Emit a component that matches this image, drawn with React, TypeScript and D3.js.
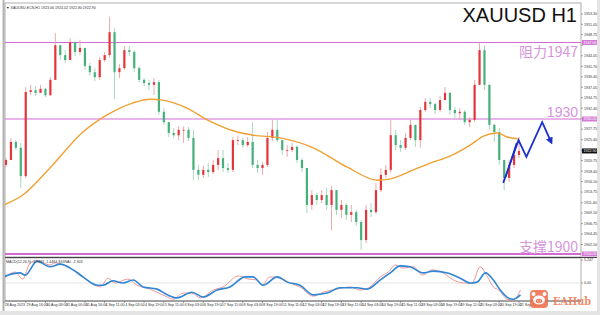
import React from "react";
import * as d3 from "d3";

const W = 600;
const H = 315;

// ---- DATA (4-hour aggregated candles) ----
const firstOpen = 1919.8;
const closes = [
  1920.9, 1924.9, 1923.6, 1917.3, 1936.0, 1936.4, 1935.8, 1936.7, 1935.3, 1938.7,
  1946.4, 1944.2, 1943.1, 1947.1, 1944.9, 1945.8, 1941.8, 1940.4, 1939.3, 1943.1,
  1944.2, 1949.3, 1940.4, 1941.3, 1945.3, 1944.9, 1941.3, 1938.7, 1938.0, 1937.6,
  1938.2, 1931.6, 1929.3, 1926.9, 1926.4, 1927.6, 1927.6, 1925.8, 1918.7, 1917.6,
  1918.7, 1918.2, 1919.8, 1921.3, 1919.1, 1918.7, 1925.3, 1925.3, 1924.2, 1924.9,
  1919.8, 1919.1, 1919.8, 1925.8, 1927.6, 1925.3, 1923.1, 1923.1, 1923.8, 1920.9,
  1919.1, 1910.9, 1913.1, 1912.0, 1913.1, 1910.9, 1914.2, 1909.8, 1910.9, 1908.7,
  1909.3, 1907.1, 1903.1, 1909.8, 1909.3, 1914.2, 1917.6, 1918.7, 1926.4, 1924.2,
  1923.6, 1925.8, 1928.7, 1925.3, 1932.0, 1933.8, 1933.3, 1932.0, 1934.2, 1935.8,
  1932.0, 1931.3, 1931.6, 1929.3, 1929.8, 1937.6, 1945.3, 1937.6, 1928.7, 1927.1,
  1920.9, 1916.9, 1919.8, 1922.0, 1922.9,
];
const highs = [
  1921.3, 1925.8, 1925.3, 1924.7, 1937.1, 1937.6, 1937.3, 1937.6, 1936.9, 1939.3,
  1949.1, 1946.4, 1945.3, 1948.0, 1946.4, 1947.6, 1945.8, 1942.4, 1941.3, 1943.8,
  1944.9, 1952.7, 1950.2, 1942.2, 1946.2, 1946.2, 1945.3, 1941.8, 1939.1, 1938.7,
  1939.1, 1938.7, 1932.4, 1929.3, 1928.0, 1928.4, 1928.4, 1928.2, 1927.6, 1919.8,
  1919.6, 1920.2, 1920.9, 1923.1, 1923.1, 1920.2, 1926.0, 1926.2, 1925.8, 1926.0,
  1929.3, 1920.9, 1920.4, 1927.1, 1929.8, 1929.8, 1925.3, 1924.2, 1924.7, 1924.2,
  1921.3, 1919.1, 1914.2, 1913.6, 1914.2, 1914.7, 1915.1, 1913.1, 1912.0, 1911.3,
  1910.9, 1909.8, 1907.6, 1910.9, 1911.3, 1915.8, 1919.1, 1919.8, 1929.8, 1927.6,
  1925.3, 1926.9, 1929.8, 1928.0, 1932.7, 1934.7, 1934.7, 1933.6, 1935.1, 1937.1,
  1936.0, 1932.7, 1932.4, 1932.0, 1930.4, 1938.7, 1947.1, 1946.4, 1935.3, 1928.9,
  1928.0, 1920.9, 1920.9, 1923.1, 1926.0,
];
const lows = [
  1919.3, 1920.9, 1923.1, 1914.7, 1916.9, 1935.3, 1935.1, 1935.8, 1934.9, 1935.1,
  1938.7, 1943.1, 1942.4, 1943.1, 1944.0, 1944.2, 1940.9, 1939.6, 1938.4, 1938.7,
  1942.7, 1943.6, 1934.4, 1939.1, 1940.9, 1944.0, 1940.4, 1938.2, 1937.3, 1936.4,
  1935.3, 1930.9, 1928.7, 1926.0, 1925.8, 1925.3, 1924.7, 1925.1, 1916.4, 1916.4,
  1916.9, 1917.1, 1917.8, 1918.7, 1918.2, 1918.0, 1918.2, 1924.2, 1923.6, 1923.8,
  1919.1, 1918.0, 1917.6, 1919.3, 1925.1, 1924.9, 1922.0, 1921.6, 1922.7, 1920.2,
  1918.2, 1909.1, 1909.8, 1910.9, 1911.3, 1909.8, 1905.3, 1908.7, 1908.0, 1907.6,
  1907.1, 1906.2, 1900.9, 1902.4, 1908.2, 1908.9, 1913.8, 1916.9, 1918.0, 1923.1,
  1922.7, 1923.1, 1925.3, 1923.8, 1923.6, 1931.6, 1932.4, 1931.1, 1931.6, 1934.2,
  1930.9, 1930.2, 1929.8, 1928.7, 1928.2, 1929.3, 1937.6, 1936.4, 1927.6, 1924.9,
  1919.8, 1914.2, 1916.0, 1919.1, 1921.3,
];

// moving average (orange) sampled points: [candle index, price]
const maIdx = [-0.4, 3.4, 8.9, 15.6, 20.5, 25.8, 29.2, 31.8, 36.7, 40.8, 46.9, 50.1, 55.6, 62.3, 69.2, 75.3, 77.9, 82.6, 86.0, 90.1, 94.1, 96.8, 99.6, 101.6, 103.7];
const maVals = [1910.9, 1913.1, 1919.1, 1927.1, 1930.9, 1933.6, 1934.4, 1934.2, 1932.4, 1929.8, 1927.1, 1926.4, 1925.8, 1923.6, 1919.3, 1916.4, 1916.7, 1918.7, 1920.2, 1921.8, 1924.2, 1926.2, 1926.9, 1926.0, 1925.6];

// MACD main line (blue)
const macdIdx = [-0.6, 2.8, 3.9, 6.3, 8.9, 11.0, 13.6, 15.6, 18.5, 19.7, 21.7, 23.7, 25.8, 27.8, 30.6, 32.7, 34.7, 37.7, 40.0, 42.8, 45.4, 48.5, 50.1, 52.1, 55.0, 57.0, 59.6, 62.3, 65.1, 67.7, 71.2, 73.2, 75.9, 77.9, 79.9, 81.9, 84.6, 86.6, 89.5, 92.1, 94.1, 95.5, 97.2, 98.8, 100.2, 101.8, 102.8, 104.3];
const macdVals = [1.4, 2.3, 1.8, 5.0, 3.7, 4.3, 3.0, 1.4, -0.5, -0.5, 0.5, 0, 0.7, -0.9, -1.4, -2.7, -3.4, -2.1, -3.2, -1.6, -0.9, 1.4, 1.4, -0.5, 1.4, 0.2, -0.5, -2.7, -2.3, -1.1, -1.1, -1.4, 0.7, 2.3, 3.9, 3.7, 2.3, 2.7, 2.3, 1.1, 0, 0.2, 2.3, 0.7, -1.6, -3.4, -3.7, -2.7];
// MACD second line (light red)
const sigIdx = [-0.2, 1.8, 3.4, 4.9, 6.3, 8.9, 9.9, 11.6, 14.4, 17.0, 19.1, 20.7, 22.1, 24.7, 26.6, 29.2, 32.7, 33.9, 35.9, 37.7, 39.4, 42.0, 44.0, 47.1, 49.1, 50.9, 51.9, 53.5, 55.6, 57.6, 59.6, 62.3, 64.3, 67.1, 69.8, 71.8, 73.8, 75.9, 77.5, 78.9, 80.5, 82.6, 84.4, 86.4, 88.6, 90.7, 92.7, 94.5, 96.1, 97.6, 98.8, 99.9, 101.6, 102.8, 104.3];
const sigVals = [1.2, 2.5, 0.9, 4.6, 5.1, 4.1, 4.6, 4.1, 2.5, 0.2, -0.9, 1.1, 0, 0.9, -0.5, -1.4, -3.2, -3.7, -2.3, -2.3, -3.4, -1.6, -0.9, 1.6, 0.9, 0.7, -0.5, 1.4, 1.1, 0, -0.9, -3.0, -2.1, -1.4, -0.9, -1.6, -0.9, 1.4, 2.5, 4.1, 3.4, 3.7, 1.8, 3.0, 2.3, 0.7, 0, 0, 3.7, 1.4, -0.9, -1.6, -3.7, -3.9, -1.6];

// forecast path (blue arrows)
const fcIdx = [100.8, 103.9, 105.5, 108.7, 110.5];
const fcVals = [1915.8, 1925.3, 1921.6, 1929.3, 1924.9];
const fc2Idx = [101.3, 103.5];
const fc2Vals = [1917.1, 1924.7];

// key levels
const levels = [1947, 1930, 1900];
const levelLabels = ["阻力1947", "1930", "支撑1900"];

const priceTicks = [1953.30, 1951.05, 1948.75, 1946.40, 1944.05, 1941.70, 1939.40, 1937.05, 1934.75, 1932.40, 1930.05, 1927.75, 1925.40, 1923.05, 1920.75, 1918.40, 1916.10, 1913.75, 1911.40, 1909.10, 1906.75, 1904.45, 1902.10];
const lastPrice = 1922.9;

const dateLabels = [
  "28 Aug 2023", "29 Aug 16:00", "30 Aug 08:00", "31 Aug 00:00", "31 Aug 16:00", "1 Sep 11:00",
  "4 Sep 03:00", "4 Sep 19:00", "5 Sep 11:00", "6 Sep 03:00", "6 Sep 19:00", "7 Sep 11:00",
  "8 Sep 03:00", "8 Sep 19:00", "11 Sep 11:00", "12 Sep 03:00", "12 Sep 19:00", "13 Sep 11:00",
  "14 Sep 03:00", "14 Sep 19:00", "15 Sep 11:00", "18 Sep 03:00", "18 Sep 19:00", "19 Sep 11:00",
  "20 Sep 03:00", "20 Sep 19:00", "21 Sep 11:00",
];
const dateIdx = [-0.4, 4, 8, 12, 16, 20, 24, 28, 32, 36, 40, 44, 48, 52, 56, 60, 64, 68, 72, 76, 80, 84, 88, 92, 96, 100, 104];

const macdTickVals = [5.247, 0];
const macdTickText = ["5.247", "0.00"];

// ---- LAYOUT ----
const plotL = 5, plotR = 581, mainT = 3, mainB = 257, indT = 258, indB = 301;

export default function App() {
  const x = d3.scaleLinear().domain([0, 104]).range([6, 519]);
  const y = d3.scaleLinear().domain([1900, 1930]).range([254, 119]);
  const ym = d3.scaleLinear().domain([0, 5.247]).range([283, 260]);

  const opens = closes.map((_, i) => (i === 0 ? firstOpen : closes[i - 1]));
  const up = "#e4353b";
  const down = "#45b07c";

  const maLine = d3.line<number>().x((_, i) => x(maIdx[i])).y((v) => y(v)).curve(d3.curveMonotoneX);
  const macdLine = d3.line<number>().x((_, i) => x(macdIdx[i])).y((v) => ym(v)).curve(d3.curveMonotoneX);
  const sigLine = d3.line<number>().x((_, i) => x(sigIdx[i])).y((v) => ym(v)).curve(d3.curveMonotoneX);
  const fcLine = d3.line<number>().x((_, i) => x(fcIdx[i])).y((v) => y(v));
  const fc2Line = d3.line<number>().x((_, i) => x(fc2Idx[i])).y((v) => y(v));

  const levelColor = "#d36bd3";
  const labelColor = "#d595db";
  const tinyFont = 3.6;

  const boxes = [...levels, lastPrice];

  return (
    <svg
      width={W}
      height={H}
      style={{ position: "fixed", left: 0, top: 0, background: "#fff" }}
      fontFamily="'Liberation Sans', Arial, sans-serif"
    >
      <defs>
        <clipPath id="mainClip">
          <rect x={plotL} y={mainT} width={plotR - plotL} height={mainB - mainT} />
        </clipPath>
        <clipPath id="indClip">
          <rect x={plotL} y={indT} width={plotR - plotL} height={indB - indT} />
        </clipPath>
        <marker id="arrow" viewBox="0 0 10 10" refX="6" refY="5" markerWidth="4" markerHeight="4" orient="auto">
          <path d="M0,0 L10,5 L0,10 z" fill="#1b2fcf" />
        </marker>
      </defs>

      <rect x={0} y={0} width={W} height={H} fill="#ffffff" />
      <rect x={597} y={0} width={3} height={H} fill="#e4e4e4" />
      <rect x={0} y={311} width={W} height={4} fill="#e4e4e4" />
      <rect x={2.5} y={0} width={2} height={311} fill="#b4b4b4" />

      {/* frames */}
      <rect x={plotL} y={mainT} width={plotR - plotL} height={mainB - mainT} fill="none" stroke="#9a9a9a" strokeWidth={0.8} />
      <rect x={plotL} y={indT} width={plotR - plotL} height={indB - indT} fill="none" stroke="#9a9a9a" strokeWidth={0.8} />
      <line x1={plotL} x2={597} y1={257.5} y2={257.5} stroke="#444" strokeWidth={1} />
      <line x1={plotL} x2={plotR} y1={indB} y2={indB} stroke="#555" strokeWidth={0.8} />

      {/* main panel */}
      <g clipPath="url(#mainClip)">
        {levels.map((lv, i) => (
          <line key={"lv" + i} x1={plotL} x2={plotR} y1={y(lv)} y2={y(lv)} stroke={levelColor} strokeWidth={i === 2 ? 2.2 : 1.1} />
        ))}

        {closes.map((c, i) => {
          const o = opens[i];
          const isUp = c >= o;
          const col = isUp ? up : down;
          const hi = Math.max(highs[i], o, c);
          const lo = Math.min(lows[i], o, c);
          const cx = x(i);
          const top = y(Math.max(o, c));
          const bot = y(Math.min(o, c));
          return (
            <g key={"c" + i}>
              <line x1={cx} x2={cx} y1={y(hi)} y2={y(lo)} stroke={isUp ? "#e7a0a0" : "#9fd3b8"} strokeWidth={0.9} />
              <rect x={cx - 1.1} y={top} width={2.2} height={Math.max(0.8, bot - top)} fill={col} />
            </g>
          );
        })}

        <path d={maLine(maVals) || ""} fill="none" stroke="#f0a033" strokeWidth={1.4} />

        <path d={fc2Line(fc2Vals) || ""} fill="none" stroke="#1b2fcf" strokeWidth={1.4} />
        <path d={fcLine(fcVals) || ""} fill="none" stroke="#1b2fcf" strokeWidth={1.8} strokeLinejoin="miter" markerEnd="url(#arrow)" />
      </g>

      {/* title & level labels */}
      <text x={577} y={22} textAnchor="end" fontSize={20} fill="#111">XAUUSD H1</text>
      <text x={578} y={57} textAnchor="end" fontSize={14} fill={labelColor} fontFamily="'Noto Sans CJK SC', 'Liberation Sans', sans-serif">{levelLabels[0]}</text>
      <text x={578} y={117} textAnchor="end" fontSize={14} fill={labelColor}>{levelLabels[1]}</text>
      <text x={578} y={252} textAnchor="end" fontSize={14} fill={labelColor} fontFamily="'Noto Sans CJK SC', 'Liberation Sans', sans-serif">{levelLabels[2]}</text>

      <text x={6} y={8.5} fontSize={tinyFont} fill="#333">▼ XAUUSD-ECN,H1  1923.06 1924.02 1922.80 1922.90</text>

      {/* price axis */}
      {priceTicks.map((t, i) => {
        const hidden = boxes.some((b) => Math.abs(y(b) - y(t)) < 5);
        return (
          <g key={"pt" + i}>
            <line x1={plotR} x2={plotR + 2} y1={y(t)} y2={y(t)} stroke="#555" strokeWidth={0.5} />
            {!hidden && (
              <text x={584} y={y(t) + 1.3} fontSize={tinyFont} fill="#333">{t.toFixed(2)}</text>
            )}
          </g>
        );
      })}
      {levels.map((lv, i) => (
        <g key={"lb" + i}>
          <rect x={plotR + 1} y={y(lv) - 2.5} width={15} height={5} fill="#d57ad5" />
          <text x={plotR + 2.5} y={y(lv) + 1.3} fontSize={tinyFont} fill="#fff">{lv.toFixed(2)}</text>
        </g>
      ))}
      <rect x={plotR + 1} y={y(lastPrice) - 2.5} width={15} height={5} fill="#111" />
      <text x={plotR + 2.5} y={y(lastPrice) + 1.3} fontSize={tinyFont} fill="#fff">{lastPrice.toFixed(2)}</text>

      {/* indicator panel */}
      <line x1={plotL} x2={plotR} y1={ym(0)} y2={ym(0)} stroke="#d8d8d8" strokeWidth={0.7} />
      <g clipPath="url(#indClip)">
        <path d={sigLine(sigVals) || ""} fill="none" stroke="#f08a8a" strokeWidth={0.9} />
        <path d={macdLine(macdVals) || ""} fill="none" stroke="#2f86d6" strokeWidth={1.6} />
      </g>
      <text x={6} y={262.5} fontSize={tinyFont} fill="#333">MACD(12,26,9) -1.9497 -1.4463 SIGNAL -2.303</text>
      {macdTickVals.map((v, i) => (
        <g key={"mt" + i}>
          <line x1={plotR} x2={plotR + 2} y1={ym(v)} y2={ym(v)} stroke="#555" strokeWidth={0.5} />
          <text x={584} y={ym(v) + 1.3} fontSize={tinyFont} fill="#333">{macdTickText[i]}</text>
        </g>
      ))}

      {/* date axis */}
      {dateLabels.map((d, i) => (
        <g key={"d" + i}>
          <line x1={x(dateIdx[i])} x2={x(dateIdx[i])} y1={indB} y2={indB + 2} stroke="#555" strokeWidth={0.5} />
          <text x={x(dateIdx[i]) + 0.8} y={306} fontSize={tinyFont} fill="#333">{d}</text>
        </g>
      ))}

      {/* EAHub watermark */}
      <g opacity={0.85}>
        <rect x={530} y={290} width={18} height={18} rx={4} fill="#ee6a45" />
        <ellipse cx={539} cy={300} rx={6} ry={4.6} fill="#fff" />
        <circle cx={533.5} cy={294} r={2} fill="#fff" />
        <circle cx={544.5} cy={294} r={2} fill="#fff" />
        <ellipse cx={539} cy={301} rx={3.2} ry={2.2} fill="#ee6a45" />
        <circle cx={537.8} cy={301} r={0.7} fill="#fff" />
        <circle cx={540.2} cy={301} r={0.7} fill="#fff" />
        <text x={553} y={304.5} fontSize={11} fontWeight="bold" fill="#ee7a55" fontFamily="'DejaVu Serif', 'Liberation Serif', serif" textLength={38} lengthAdjust="spacingAndGlyphs">EAHub</text>
      </g>
    </svg>
  );
}
